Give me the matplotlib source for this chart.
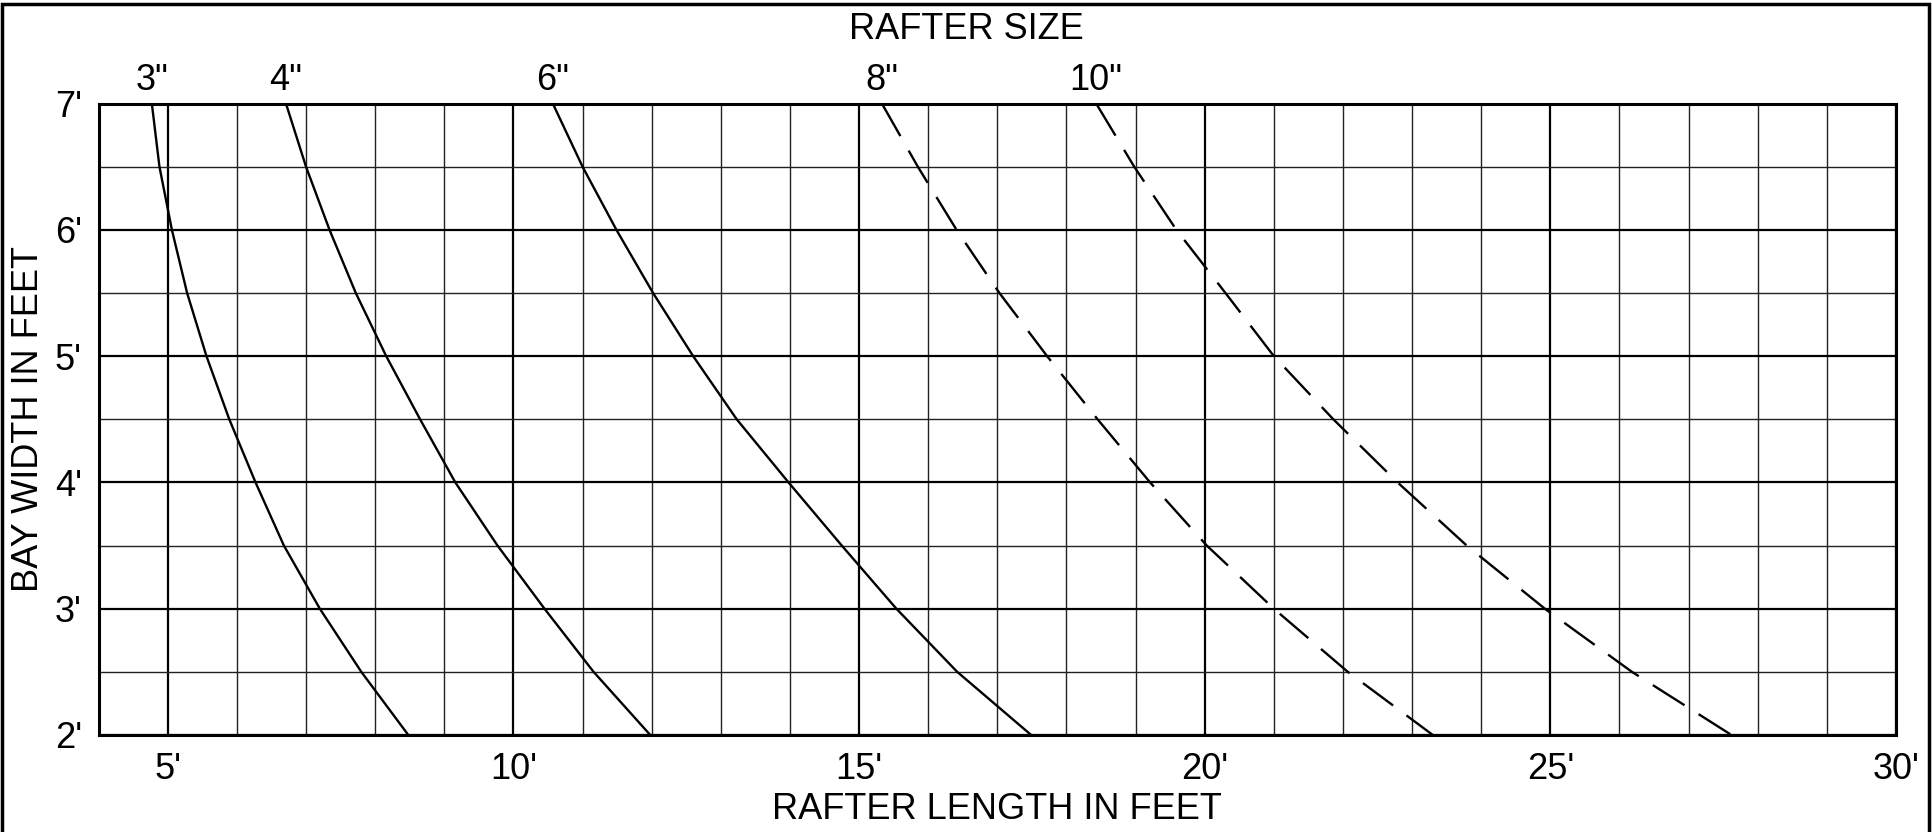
import matplotlib.pyplot as plt
from matplotlib.patches import Rectangle
from matplotlib.ticker import MultipleLocator

plt.rcParams['font.family'] = ['Liberation Sans', 'DejaVu Sans']
plt.rcParams['lines.scale_dashes'] = False

# bay width levels (feet), read top to bottom
bay = [7, 6.5, 6, 5.5, 5, 4.5, 4, 3.5, 3, 2.5, 2]

# rafter length (feet) for each rafter size at the bay widths above
len_3 = [4.77, 4.88, 5.06, 5.28, 5.56, 5.89, 6.27, 6.68, 7.2, 7.8, 8.48]
len_4 = [6.71, 7.0, 7.34, 7.72, 8.16, 8.65, 9.16, 9.77, 10.45, 11.16, 11.98]
len_6 = [10.57, 11.0, 11.49, 12.02, 12.6, 13.23, 13.98, 14.75, 15.54, 16.42, 17.49]
len_8 = [15.33, 15.85, 16.41, 17.03, 17.72, 18.45, 19.21, 20.03, 21.0, 22.07, 23.3]
len_10 = [18.43, 18.98, 19.59, 20.3, 21.0, 21.86, 22.79, 23.79, 24.92, 26.18, 27.62]

sizes = ['3"', '4"', '6"', '8"', '10"']
lengths = [len_3, len_4, len_6, len_8, len_10]
dashed = [False, False, False, True, True]

x_ticks = [5, 10, 15, 20, 25, 30]
y_ticks = [2, 3, 4, 5, 6, 7]

fig = plt.figure(figsize=(19.33, 8.32), dpi=100)
ax = fig.add_axes([0.05101, 0.11659, 0.92985, 0.75901])

ax.set_xlim(4, 30)
ax.set_ylim(2, 7)

# grid: thin every foot / half foot, heavier every 5 ft and every foot of width
ax.xaxis.set_minor_locator(MultipleLocator(1))
ax.yaxis.set_minor_locator(MultipleLocator(0.5))
ax.set_xticks(x_ticks)
ax.set_yticks(y_ticks)
ax.set_xticklabels([f"{v}'" for v in x_ticks])
ax.set_yticklabels([f"{v}'" for v in y_ticks])
ax.grid(which='minor', color='#222222', linewidth=1.0)
ax.grid(which='major', color='black', linewidth=1.6)
ax.set_axisbelow(True)
ax.tick_params(which='both', length=0)
ax.tick_params(axis='x', pad=12, labelsize=26)
ax.tick_params(axis='y', pad=12, labelsize=26)
for s in ax.spines.values():
    s.set_linewidth(2.2)

for name, xs, dash in zip(sizes, lengths, dashed):
    if dash:
        ax.plot(xs, bay, color='black', linewidth=1.7, linestyle=(0, (27, 12)))
    else:
        ax.plot(xs, bay, color='black', linewidth=1.7)
    ax.annotate(name, (xs[0], bay[0]), xytext=(0, 10), textcoords='offset points',
                ha='center', va='baseline', fontsize=26, annotation_clip=False)

ax.set_xlabel('RAFTER LENGTH IN FEET', fontsize=26, labelpad=4)
ax.set_ylabel('BAY WIDTH IN FEET', fontsize=26, labelpad=6)
fig.text(0.5, 1 - 29.7 / 832, 'RAFTER SIZE', ha='center', va='center', fontsize=26)

# frame around the whole drawing
fig.patches.append(Rectangle((2 / 1933, -0.05), 1927 / 1933, 0.9952 + 0.05,
                             transform=fig.transFigure, fill=False,
                             edgecolor='black', linewidth=2.5))

fig.savefig('out.png', dpi=100, facecolor='white')
